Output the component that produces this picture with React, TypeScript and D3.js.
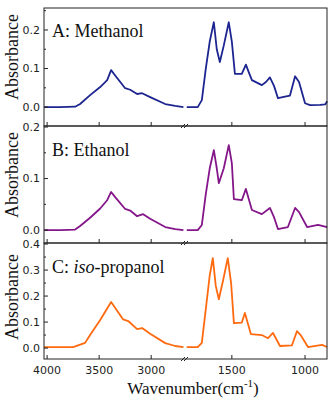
import React from "react";
import * as d3 from "d3";

// Wavenumber (cm-1) / absorbance pairs
const methanolHigh: [number, number][] = [
  [4029, 0.0], [3875, 0.0], [3731, 0.001], [3683, 0.008], [3587, 0.031], [3490, 0.052],
  [3423, 0.07], [3385, 0.096], [3346, 0.082], [3250, 0.049], [3202, 0.045], [3135, 0.034],
  [3087, 0.036], [3010, 0.026], [2865, 0.008], [2769, 0.003], [2690, 0.0],
];
const methanolLow: [number, number][] = [
  [1808, 0.0], [1733, 0.0], [1705, 0.018], [1678, 0.1], [1651, 0.17], [1623, 0.22],
  [1603, 0.15], [1582, 0.117], [1555, 0.16], [1521, 0.22], [1500, 0.17], [1479, 0.086],
  [1432, 0.086], [1404, 0.11], [1384, 0.09], [1363, 0.07], [1295, 0.057], [1267, 0.065],
  [1240, 0.077], [1212, 0.055], [1185, 0.023], [1137, 0.027], [1103, 0.03], [1068, 0.08],
  [1041, 0.065], [1000, 0.01], [966, 0.005], [897, 0.006], [863, 0.007], [849, 0.015],
];
const ethanolHigh: [number, number][] = [
  [4029, 0.0], [3875, 0.0], [3731, 0.001], [3683, 0.008], [3587, 0.024], [3490, 0.042],
  [3423, 0.058], [3385, 0.074], [3346, 0.064], [3250, 0.041], [3202, 0.038], [3135, 0.027],
  [3077, 0.031], [3010, 0.022], [2865, 0.006], [2769, 0.002], [2690, 0.0],
];
const ethanolLow: [number, number][] = [
  [1808, 0.0], [1733, 0.0], [1705, 0.01], [1678, 0.07], [1651, 0.12], [1623, 0.155],
  [1603, 0.12], [1589, 0.091], [1555, 0.12], [1521, 0.165], [1500, 0.13], [1486, 0.06],
  [1432, 0.058], [1404, 0.08], [1384, 0.06], [1363, 0.039], [1295, 0.031], [1240, 0.043],
  [1212, 0.025], [1185, 0.002], [1117, 0.006], [1068, 0.043], [1041, 0.035], [986, 0.006],
  [911, 0.01], [849, 0.006],
];
const propanolHigh: [number, number][] = [
  [4029, 0.004], [3875, 0.004], [3750, 0.004], [3635, 0.02], [3587, 0.05], [3490, 0.108],
  [3385, 0.177], [3269, 0.11], [3221, 0.104], [3135, 0.073], [3087, 0.077], [3010, 0.055],
  [2865, 0.019], [2769, 0.008], [2690, 0.004],
];
const propanolLow: [number, number][] = [
  [1808, 0.004], [1733, 0.004], [1705, 0.02], [1678, 0.15], [1651, 0.28], [1630, 0.346],
  [1610, 0.24], [1589, 0.188], [1560, 0.26], [1528, 0.346], [1505, 0.25], [1486, 0.096],
  [1432, 0.098], [1411, 0.135], [1370, 0.054], [1295, 0.05], [1253, 0.038], [1219, 0.058],
  [1171, 0.008], [1090, 0.01], [1055, 0.065], [1030, 0.05], [980, 0.004], [884, 0.012],
  [849, 0.004],
];

const highDomain = [4030, 2675];
const lowDomain = [1820, 850];
const xTicksHigh = [4000, 3500, 3000];
const xTicksLow = [1500, 1000];

const panels = [
  { label: "A: Methanol", italic: "", rest: "", high: methanolHigh, low: methanolLow, color: "#1c2590", yDomain: [-0.049, 0.257], ticks: [0, 0.1, 0.2], minor: [0.05, 0.15, 0.25], top: 8, bottom: 126, labelY: 57, titleY: 37 },
  { label: "B: Ethanol", italic: "", rest: "", high: ethanolHigh, low: ethanolLow, color: "#84168a", yDomain: [-0.025, 0.202], ticks: [0, 0.1, 0.2], minor: [0.05, 0.15], top: 126, bottom: 243, labelY: 175, titleY: 156 },
  { label: "C: ", italic: "iso", rest: "-propanol", high: propanolHigh, low: propanolLow, color: "#ff6a10", yDomain: [-0.042, 0.404], ticks: [0, 0.1, 0.2, 0.3, 0.4], minor: [0.05, 0.15, 0.25, 0.35], top: 243, bottom: 359, labelY: 297, titleY: 273 },
];

const X0 = 44, XB = 185, X1 = 327;

export default function App() {
  const xHigh = d3.scaleLinear().domain(highDomain).range([X0, XB]);
  const xLow = d3.scaleLinear().domain(lowDomain).range([XB, X1]);
  const serif = "'Liberation Serif', 'Times New Roman', serif";
  const sans = "'DejaVu Sans', sans-serif";
  return (
    <svg width={330} height={401} style={{ position: "absolute", left: 0, top: 0, background: "#fff" }}>
      {panels.map((p, i) => {
        const y = d3.scaleLinear().domain(p.yDomain).range([p.bottom, p.top]);
        const lineH = d3.line<[number, number]>().x(d => xHigh(d[0])).y(d => y(d[1]));
        const lineL = d3.line<[number, number]>().x(d => xLow(d[0])).y(d => y(d[1]));
        return (
          <g key={i}>
            <path d={lineH(p.high) || ""} fill="none" stroke={p.color} strokeWidth={1.8} strokeLinejoin="round" />
            <path d={lineL(p.low) || ""} fill="none" stroke={p.color} strokeWidth={1.8} strokeLinejoin="round" />
            <rect x={X0} y={p.top} width={X1 - X0} height={p.bottom - p.top} fill="none" stroke="#222" strokeWidth={1} />
            {p.ticks.map(t => (
              <g key={t}>
                <line x1={X0} x2={X0 + 4} y1={y(t)} y2={y(t)} stroke="#222" />
                <text x={X0 - 4} y={y(t)} dy="0.35em" textAnchor="end" fontFamily={sans} fontSize={11} fill="#222">{d3.format(".1f")(t)}</text>
              </g>
            ))}
            {p.minor.map(t => (
              <line key={t} x1={X0} x2={X0 + 2} y1={y(t)} y2={y(t)} stroke="#222" />
            ))}
            {xTicksHigh.map(t => (
              <line key={"h" + t} x1={xHigh(t)} x2={xHigh(t)} y1={p.bottom} y2={p.bottom - 4} stroke="#222" />
            ))}
            {xTicksLow.map(t => (
              <line key={"l" + t} x1={xLow(t)} x2={xLow(t)} y1={p.bottom} y2={p.bottom - 4} stroke="#222" />
            ))}
            <g stroke="#222" strokeWidth={1}>
              <line x1={XB - 4} y1={p.bottom + 2} x2={XB} y2={p.bottom - 2} />
              <line x1={XB - 1} y1={p.bottom + 2} x2={XB + 3} y2={p.bottom - 2} />
            </g>
            <text x={52} y={p.titleY} fontFamily={serif} fontSize={18} fill="#111">
              {p.label}
              {p.italic && <tspan fontStyle="italic">{p.italic}</tspan>}
              {p.rest}
            </text>
            <text transform={`translate(18,${p.labelY}) rotate(-90)`} textAnchor="middle" fontFamily={serif} fontSize={18} fill="#111">Absorbance</text>
          </g>
        );
      })}
      {xTicksHigh.map(t => (
        <text key={"th" + t} x={xHigh(t)} y={374} textAnchor="middle" fontFamily={sans} fontSize={11} fill="#222">{t}</text>
      ))}
      {xTicksLow.map(t => (
        <text key={"tl" + t} x={xLow(t)} y={374} textAnchor="middle" fontFamily={sans} fontSize={11} fill="#222">{t}</text>
      ))}
      <text x={193} y={394} textAnchor="middle" fontFamily={serif} fontSize={17} fill="#111">
        Wavenumber(cm<tspan dy={-7} fontSize={11}>-1</tspan><tspan dy={7}>)</tspan>
      </text>
    </svg>
  );
}
